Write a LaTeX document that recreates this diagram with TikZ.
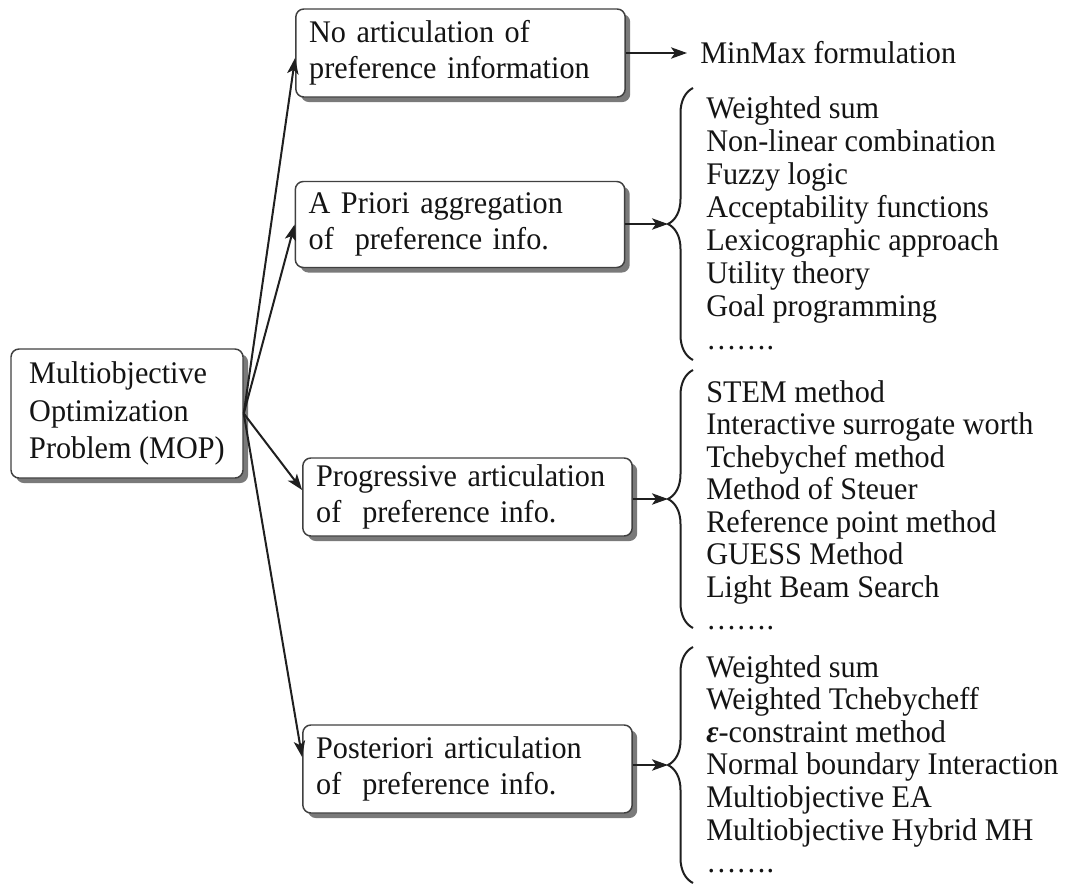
\documentclass[tikz,border=0pt]{standalone}
\usepackage{fontspec}
\setmainfont[FakeStretch=0.96]{Liberation Serif}
\usetikzlibrary{arrows.meta,shadows,decorations.pathreplacing,calc}
\begin{document}
\hyphenpenalty=10000
\exhyphenpenalty=10000
\begin{tikzpicture}[x=0.75pt,y=-0.75pt,
  ink/.style={draw=black!88,line width=1.5pt},
  frame/.style={draw=black!75,line width=1.1pt,fill=white,rounded corners=6pt,
    drop shadow={shadow xshift=3.8pt,shadow yshift=-3.8pt,fill=black!52,opacity=1},
    font=\fontsize{23.6}{27}\selectfont,align=left,inner ysep=0pt,text=black!92},
  catbox/.style={frame,text width=227pt,inner xsep=10pt,minimum height=66pt},
  arr/.style={ink,-{Stealth[length=12pt,width=8.5pt,inset=3pt]}},
  curly/.style={ink,decorate,decoration={brace,amplitude=18.75pt}},
  item/.style={font=\fontsize{23.6}{27}\selectfont,anchor=base west,inner sep=0pt,text=black!92},
]
\useasboundingbox (0,0) rectangle (1067,885);

% root problem
\node[frame,minimum width=174pt,minimum height=96.75pt,
      font=\fontsize{23.6}{28}\selectfont] (mop) at (127,413.5)
  {Multiobjective\\Optimization\\Problem (MOP)};

% the four classes of methods
\node[catbox] (b1) at (460.5,53) {No articulation of\\preference information};
\node[catbox,minimum height=64.5pt] (b2) at (460,224.5) {A Priori aggregation\\of~~preference info.};
\node[catbox,minimum height=58.5pt] (b3) at (467.5,497) {Progressive articulation\\of~~preference info.};
\node[catbox] (b4) at (467.5,769) {Posteriori articulation\\of~~preference info.};

\draw[arr] (mop.east) -- ($(b1.west)+(0,5)$);
\draw[arr] (mop.east) -- (b2.west);
\draw[arr] (mop.east) -- ($(b3.west)+(0,-7)$);
\draw[arr] (mop.east) -- ($(b4.west)+(0,-12)$);

% no articulation
\node[item] (mm) at (700,63) {MinMax formulation};
\coordinate (t1) at (687,53);
\draw[arr] (b1.east) -- (t1);

% braces gathering the methods of each class
\draw[curly] (693,360) -- (693,88);
\draw[curly] (693,628) -- (693,370);
\draw[curly] (693,883) -- (693,647);
\coordinate (t2) at (668,224);
\coordinate (t3) at (668,499);
\coordinate (t4) at (668,765);
\draw[arr] (b2.east |- t2) -- (t2);
\draw[arr] (b3.east |- t3) -- (t3);
\draw[arr] (b4.east |- t4) -- (t4);

% a priori methods
\foreach \t [count=\i from 0] in {Weighted sum,Non-linear combination,Fuzzy logic,
    Acceptability functions,Lexicographic approach,Utility theory,Goal programming,…….}
  \node[item] (pa\i) at (706,{118+33*\i}) {\t};

% progressive methods
\foreach \t [count=\i from 0] in {STEM method,Interactive surrogate worth,Tchebychef method,
    Method of Steuer,Reference point method,GUESS Method,Light Beam Search,…….}
  \node[item] (pr\i) at (706,{402+32.5*\i}) {\t};

% a posteriori methods
\foreach \t [count=\i from 0] in {Weighted sum,Weighted Tchebycheff,
    {{\bfseries\itshape ε}-constraint method},Normal boundary Interaction,
    Multiobjective EA,Multiobjective Hybrid MH,…….}
  \node[item] (po\i) at (706,{677+32.6*\i}) {\t};
\end{tikzpicture}
\end{document}
